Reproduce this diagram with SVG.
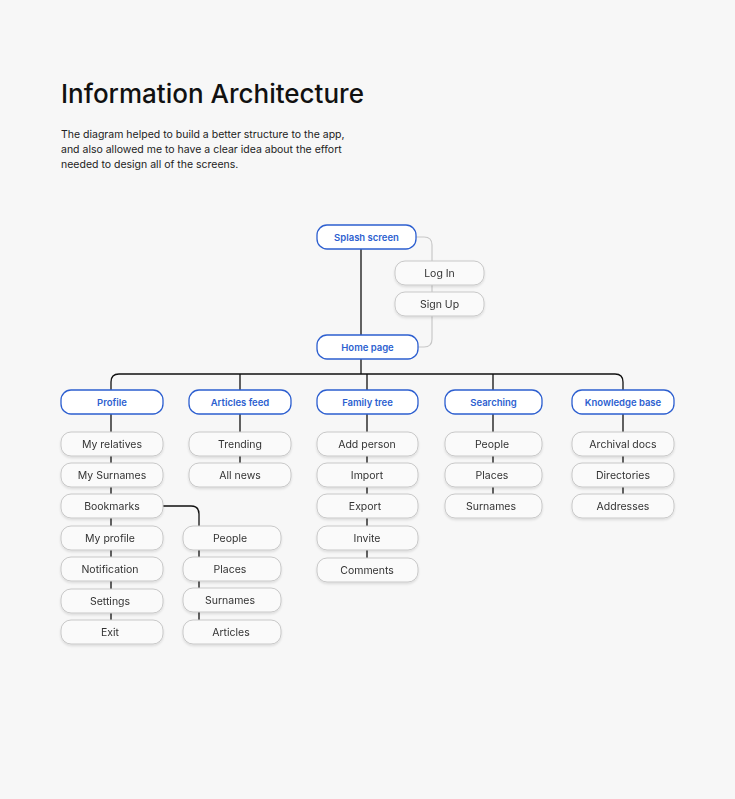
<svg xmlns="http://www.w3.org/2000/svg" width="735" height="799" viewBox="0 0 735 799">
<defs>
<style>
text{font-family:Inter,"Open Sans",sans-serif;}
.b{fill:#fff;stroke:#2d5fd0;stroke-width:1.3;}
.c{fill:#fafafa;stroke:#c8c8c8;stroke-width:1;}
.bt{font-size:9.5px;font-weight:600;fill:#2d5fd0;text-anchor:middle;}
.ct{font-size:10.5px;fill:#333;text-anchor:middle;}
.k{fill:none;stroke:#111;stroke-width:1.3;}
.g{fill:none;stroke:#c8c8c8;stroke-width:1.2;}
</style>
<filter id="sh" x="-10%" y="-20%" width="120%" height="150%"><feDropShadow dx="0" dy="1.5" stdDeviation="1" flood-color="#000" flood-opacity="0.12"/></filter>
</defs>
<rect width="735" height="799" fill="#f7f7f7"/>
<text x="61" y="103" style="font-size:26px;font-weight:500;fill:#111">Information Architecture</text>
<text style="font-size:10.5px;fill:#222"><tspan x="61" y="138">The diagram helped to build a better structure to the app,</tspan><tspan x="61" y="153">and also allowed me to have a clear idea about the effort</tspan><tspan x="61" y="168">needed to design all of the screens.</tspan></text>
<g id="connectors">
<path class="g" d="M416 237 H424 Q432 237 432 245 V339 Q432 347 424 347 H418"/>
<path class="k" d="M361 249 V335"/>
<path class="k" d="M361 359 V374"/>
<path class="k" d="M111 390 V382 Q111 374 119 374 H615 Q623 374 623 382 V390"/>
<path class="k" d="M240 374 V390 M367 374 V390 M493 374 V390"/>
<path class="k" d="M111 414 V620 M240 414 V463 M367 414 V558 M493 414 V494 M623 414 V494"/>
<path class="k" d="M163 506 H191 Q199 506 199 514 V526"/>
<path class="k" d="M199 550 V620"/>
</g>
<g id="splash"><rect class="b" x="317" y="225" width="99" height="24" rx="10"/><text class="bt" x="366.5" y="240.5">Splash screen</text></g>
<g id="login" filter="url(#sh)"><rect class="c" x="395" y="261" width="89" height="24" rx="10"/><text class="ct" x="439.5" y="276.5">Log In</text></g>
<g id="signup" filter="url(#sh)"><rect class="c" x="395" y="292" width="89" height="24" rx="10"/><text class="ct" x="439.5" y="307.5">Sign Up</text></g>
<g id="home"><rect class="b" x="317" y="335" width="101" height="24" rx="10"/><text class="bt" x="367.5" y="350.5">Home page</text></g>
<g id="profile"><rect class="b" x="61" y="390" width="102" height="24" rx="10"/><text class="bt" x="112" y="405.5">Profile</text></g>
<g id="articles"><rect class="b" x="189" y="390" width="102" height="24" rx="10"/><text class="bt" x="240" y="405.5">Articles feed</text></g>
<g id="family"><rect class="b" x="317" y="390" width="101" height="24" rx="10"/><text class="bt" x="367.5" y="405.5">Family tree</text></g>
<g id="searching"><rect class="b" x="445" y="390" width="97" height="24" rx="10"/><text class="bt" x="493.5" y="405.5">Searching</text></g>
<g id="knowledge"><rect class="b" x="572" y="390" width="102" height="24" rx="10"/><text class="bt" x="623" y="405.5">Knowledge base</text></g>
<g filter="url(#sh)">
<g id="p1"><rect class="c" x="61" y="432" width="102" height="24" rx="10"/><text class="ct" x="112" y="447.5">My relatives</text></g>
<g id="p2"><rect class="c" x="61" y="463" width="102" height="24" rx="10"/><text class="ct" x="112" y="478.5">My Surnames</text></g>
<g id="p3"><rect class="c" x="61" y="494" width="102" height="24" rx="10"/><text class="ct" x="112" y="509.5">Bookmarks</text></g>
<g id="p4"><rect class="c" x="61" y="526" width="102" height="24" rx="10"/><text class="ct" x="110" y="541.5">My profile</text></g>
<g id="p5"><rect class="c" x="61" y="557" width="102" height="24" rx="10"/><text class="ct" x="110" y="572.5">Notification</text></g>
<g id="p6"><rect class="c" x="61" y="589" width="102" height="24" rx="10"/><text class="ct" x="110" y="604.5">Settings</text></g>
<g id="p7"><rect class="c" x="61" y="620" width="102" height="24" rx="10"/><text class="ct" x="110" y="635.5">Exit</text></g>
<g id="b1"><rect class="c" x="183" y="526" width="98" height="24" rx="10"/><text class="ct" x="230" y="541.5">People</text></g>
<g id="b2"><rect class="c" x="183" y="557" width="98" height="24" rx="10"/><text class="ct" x="230" y="572.5">Places</text></g>
<g id="b3"><rect class="c" x="183" y="588" width="98" height="24" rx="10"/><text class="ct" x="230" y="603.5">Surnames</text></g>
<g id="b4"><rect class="c" x="183" y="620" width="98" height="24" rx="10"/><text class="ct" x="231" y="635.5">Articles</text></g>
<g id="a1"><rect class="c" x="189" y="432" width="102" height="24" rx="10"/><text class="ct" x="240" y="447.5">Trending</text></g>
<g id="a2"><rect class="c" x="189" y="463" width="102" height="24" rx="10"/><text class="ct" x="240" y="478.5">All news</text></g>
<g id="f1"><rect class="c" x="317" y="432" width="101" height="24" rx="10"/><text class="ct" x="367" y="447.5">Add person</text></g>
<g id="f2"><rect class="c" x="317" y="463" width="101" height="24" rx="10"/><text class="ct" x="367" y="478.5">Import</text></g>
<g id="f3"><rect class="c" x="317" y="494" width="101" height="24" rx="10"/><text class="ct" x="365" y="509.5">Export</text></g>
<g id="f4"><rect class="c" x="317" y="526" width="101" height="24" rx="10"/><text class="ct" x="367" y="541.5">Invite</text></g>
<g id="f5"><rect class="c" x="317" y="558" width="101" height="24" rx="10"/><text class="ct" x="367" y="573.5">Comments</text></g>
<g id="s1"><rect class="c" x="445" y="432" width="97" height="24" rx="10"/><text class="ct" x="492" y="447.5">People</text></g>
<g id="s2"><rect class="c" x="445" y="463" width="97" height="24" rx="10"/><text class="ct" x="492" y="478.5">Places</text></g>
<g id="s3"><rect class="c" x="445" y="494" width="97" height="24" rx="10"/><text class="ct" x="491" y="509.5">Surnames</text></g>
<g id="k1"><rect class="c" x="572" y="432" width="102" height="24" rx="10"/><text class="ct" x="623" y="447.5">Archival docs</text></g>
<g id="k2"><rect class="c" x="572" y="463" width="102" height="24" rx="10"/><text class="ct" x="623" y="478.5">Directories</text></g>
<g id="k3"><rect class="c" x="572" y="494" width="102" height="24" rx="10"/><text class="ct" x="623" y="509.5">Addresses</text></g>
</g>
</svg>
